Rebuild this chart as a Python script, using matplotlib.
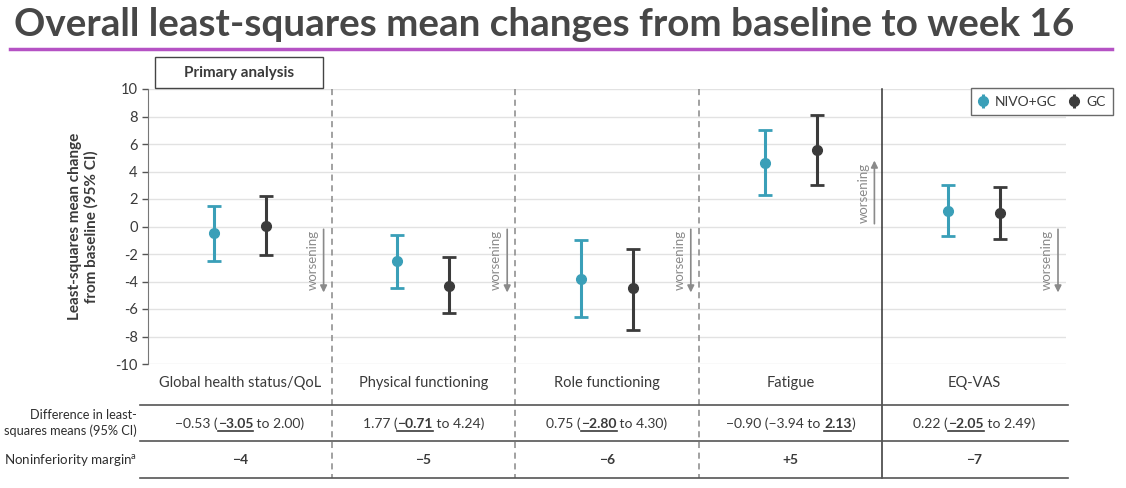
import numpy as np
import matplotlib
matplotlib.use('agg')
import matplotlib.pyplot as plt
from matplotlib import transforms
from matplotlib.lines import Line2D

plt.rcParams['font.family'] = ['Lato', 'DejaVu Sans']
plt.rcParams['axes.unicode_minus'] = False

categories = ["Global health status/QoL", "Physical functioning", "Role functioning", "Fatigue", "EQ-VAS"]
nivo_mean = [-0.5, -2.5, -3.8, 4.65, 1.15]
nivo_low = [-2.5, -4.5, -6.6, 2.3, -0.7]
nivo_high = [1.5, -0.6, -1.0, 7.05, 3.0]
gc_mean = [0.05, -4.3, -4.5, 5.6, 1.0]
gc_low = [-2.1, -6.3, -7.5, 3.0, -0.9]
gc_high = [2.2, -2.2, -1.6, 8.1, 2.85]
worsening_dir = [-1, -1, -1, 1, -1]

# (text, bold+underlined)
diff_parts = [
    [("\u22120.53 (", False), ("\u22123.05", True), (" to 2.00)", False)],
    [("1.77 (", False), ("\u22120.71", True), (" to 4.24)", False)],
    [("0.75 (", False), ("\u22122.80", True), (" to 4.30)", False)],
    [("\u22120.90 (\u22123.94 to ", False), ("2.13", True), (")", False)],
    [("0.22 (", False), ("\u22122.05", True), (" to 2.49)", False)],
]
margins = ["\u22124", "\u22125", "\u22126", "+5", "\u22127"]

teal = '#3a9fb8'
dark = '#3b3b3b'
textc = '#3a3a3a'

W, H = 1126, 488
fig = plt.figure(figsize=(W / 100, H / 100), dpi=100)

# title and purple rule
fig.text(14 / W, 1 - 25 / H, "Overall least-squares mean changes from baseline to week 16",
         fontsize=27.8, fontweight='bold', color='#474747', va='center', ha='left')
fig.add_artist(Line2D([10 / W, 1112 / W], [1 - 49 / H, 1 - 49 / H], color='#b552c4', lw=2.5))

ax_l, ax_r, ax_t, ax_b = 148, 1066, 89, 364
ax = fig.add_axes([ax_l / W, 1 - ax_b / H, (ax_r - ax_l) / W, (ax_b - ax_t) / H])
ax.set_xlim(0, 5)
ax.set_ylim(-10, 10)
ax.set_yticks(np.arange(-10, 11, 2))
ax.tick_params(axis='y', labelsize=10.5, colors='#555555', labelcolor=textc, length=4, width=1)
ax.set_xticks([])
for s in ['top', 'right', 'bottom']:
    ax.spines[s].set_visible(False)
ax.spines['left'].set_color('#777777')
ax.yaxis.grid(True, color='#e2e2e2', lw=1)
ax.set_axisbelow(True)
ax.set_ylabel("Least-squares mean change\nfrom baseline (95% CI)", fontsize=11,
              fontweight='bold', color=textc, labelpad=12)

pw = (ax_r - ax_l) / 5.0
off = 26 / pw
x = np.arange(5) + 0.5
ax.errorbar(x - off, nivo_mean,
            yerr=[np.array(nivo_mean) - np.array(nivo_low), np.array(nivo_high) - np.array(nivo_mean)],
            fmt='o', color=teal, ms=7, lw=2.2, capsize=5, capthick=2)
ax.errorbar(x + off, gc_mean,
            yerr=[np.array(gc_mean) - np.array(gc_low), np.array(gc_high) - np.array(gc_mean)],
            fmt='o', color=dark, ms=7, lw=2.2, capsize=5, capthick=2)

# legend proxies without caps
p1 = ax.errorbar([np.nan], [np.nan], yerr=[[1], [1]], fmt='o', color=teal, ms=7, lw=2.2, capsize=0, label='NIVO+GC')
p2 = ax.errorbar([np.nan], [np.nan], yerr=[[1], [1]], fmt='o', color=dark, ms=7, lw=2.2, capsize=0, label='GC')

def fy(py):
    return (ax_b - py) / (ax_b - ax_t)

leg = ax.legend(handles=[p1, p2], loc='upper right',
                bbox_to_anchor=((1113 - ax_l) / (ax_r - ax_l), fy(88)),
                ncol=2, frameon=True, fancybox=False, fontsize=10, handlelength=0.7,
                columnspacing=0.9, handletextpad=0.5, borderpad=0.55, borderaxespad=0)
leg.get_frame().set_edgecolor('#444444')
leg.get_frame().set_linewidth(1)
for t in leg.get_texts():
    t.set_color(textc)

# worsening arrows
for i, d in enumerate(worsening_dir):
    ax_x = i + 1 - 8 / pw
    ax.annotate('', xy=(ax_x, 5 * d), xytext=(ax_x, 0),
                arrowprops=dict(arrowstyle='-|>', color='#8a8a8a', lw=1.2, mutation_scale=10))
    ax.text(i + 1 - 19 / pw, 2.45 * d, 'worsening', rotation=90, ha='center', va='center',
            fontsize=9.5, color='#8a8a8a')

tr = ax.get_xaxis_transform()

# panel dividers
for i in range(1, 5):
    ls = '-' if i == 4 else (0, (4, 3))
    col = '#333333' if i == 4 else '#888888'
    ax.add_line(Line2D([i, i], [fy(89), fy(478)], transform=tr, color=col, lw=1.1,
                       linestyle=ls, clip_on=False))

# table rules
for py in [405, 441, 478]:
    ax.add_line(Line2D([(140 - ax_l) / pw, (1068 - ax_l) / pw], [fy(py), fy(py)], transform=tr,
                       color='#555555', lw=1.2, clip_on=False))

# category labels
for i, c in enumerate(categories):
    ax.text(i + 0.5, fy(383), c, transform=tr, ha='center', va='center', fontsize=10.5, color=textc)

# row labels
ax.text((137 - ax_l) / pw, fy(423), "Difference in least-\nsquares means (95% CI)", transform=tr,
        ha='right', va='center', fontsize=9.2, color='#2e2e2e', linespacing=1.4)
ax.text((137 - ax_l) / pw, fy(460), "Noninferiority margin$^{\\mathregular{a}}$", transform=tr,
        ha='right', va='center', fontsize=9.6, color='#2e2e2e')

# rich text cells
fig.canvas.draw()
renderer = fig.canvas.get_renderer()
for i, parts in enumerate(diff_parts):
    texts = []
    widths = []
    for s, b in parts:
        t = ax.text(i + 0.5, fy(428), s, transform=tr, ha='left', va='baseline', fontsize=10,
                    fontweight='bold' if b else 'normal', color=textc)
        texts.append(t)
        widths.append(t.get_window_extent(renderer).width)
    total = sum(widths)
    cur = -total / 2
    for (s, b), t, w in zip(parts, texts, widths):
        t.set_transform(transforms.offset_copy(tr, fig=fig, x=cur, y=0, units='dots'))
        if b:
            ul_tr = transforms.offset_copy(tr, fig=fig, x=0, y=-3, units='dots')
            x0 = i + 0.5 + cur / pw
            x1 = i + 0.5 + (cur + w) / pw
            ax.add_line(Line2D([x0, x1], [fy(428), fy(428)], transform=ul_tr, color=textc,
                               lw=1.2, clip_on=False))
        cur += w

for i, m in enumerate(margins):
    ax.text(i + 0.5, fy(460), m, transform=tr, ha='center', va='center', fontsize=10,
            fontweight='bold', color=textc)

# "Primary analysis" box
fig.text(239 / W, 1 - 73 / H, "Primary analysis", ha='center', va='center', fontsize=11,
         fontweight='bold', color=textc)
fig.add_artist(plt.Rectangle((155 / W, 1 - 88 / H), 168 / W, 31 / H, fill=False,
                             edgecolor='#444444', lw=1, transform=fig.transFigure))

fig.savefig('out.png', dpi=100)
